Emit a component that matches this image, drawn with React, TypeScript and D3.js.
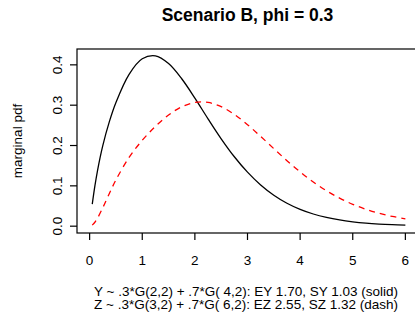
import React from "react";
import * as d3 from "d3";

const xValues = [0.05, 0.1, 0.15, 0.25, 0.375, 0.5, 0.75, 1, 1.25, 1.5, 1.75, 2, 2.25, 2.5, 2.75, 3, 3.25, 3.5, 3.75, 4, 4.25, 4.5, 4.75, 5, 5.25, 5.5, 5.75, 6];
const yPdf = [0.0545, 0.0998, 0.1380, 0.1997, 0.2591, 0.3066, 0.3765, 0.4150, 0.4224, 0.4033, 0.3655, 0.3175, 0.2662, 0.2167, 0.1721, 0.1339, 0.1022, 0.0768, 0.0569, 0.0417, 0.0302, 0.0217, 0.0154, 0.0109, 0.0076, 0.0053, 0.0037, 0.0025];
const zPdf = [0.0027, 0.0098, 0.0200, 0.0457, 0.0810, 0.1147, 0.1704, 0.2129, 0.2474, 0.2756, 0.2960, 0.3067, 0.3067, 0.2962, 0.2771, 0.2517, 0.2226, 0.1922, 0.1625, 0.1347, 0.1097, 0.0880, 0.0696, 0.0543, 0.0419, 0.0320, 0.0242, 0.0181];
const xTicks = [0, 1, 2, 3, 4, 5, 6];
const yTicks = [0.0, 0.1, 0.2, 0.3, 0.4];
const title = "Scenario B, phi = 0.3";
const yLabel = "marginal pdf";
const noteLines = [
  "Y ~ .3*G(2,2) + .7*G( 4,2): EY 1.70, SY 1.03 (solid)",
  "Z ~ .3*G(3,2) + .7*G( 6,2): EZ 2.55, SZ 1.32 (dash)",
];

const W = 415;
const H = 323;
const left = 77;
const right = 418;
const top = 49;
const bottom = 233;
const font = "'Liberation Sans', Arial, Helvetica, sans-serif";

export default function App() {
  const x = d3.scaleLinear().domain([-0.24, 6.24]).range([left, right]);
  const y = d3.scaleLinear().domain([-0.0169, 0.4393]).range([bottom, top]);
  const line = (vals: number[]) =>
    d3
      .line<number>()
      .x((_, i) => x(xValues[i]))
      .y((d) => y(d))
      .curve(d3.curveCatmullRom.alpha(0.5))(vals) || "";

  return (
    <svg
      width={W}
      height={H}
      style={{ position: "absolute", left: 0, top: 0, background: "#fff" }}
      fontFamily={font}
    >
      <rect x={0} y={0} width={W} height={H} fill="#fff" />
      <text x={(left + right) / 2} y={21} textAnchor="middle" fontSize={17.5} fontWeight="bold">
        {title}
      </text>
      <path d={line(yPdf)} fill="none" stroke="#000" strokeWidth={1.3} />
      <path d={line(zPdf)} fill="none" stroke="#ff0000" strokeWidth={1.3} strokeDasharray="6,5" />
      <rect x={left} y={top} width={right - left} height={bottom - top} fill="none" stroke="#000" strokeWidth={1.2} />
      {xTicks.map((t) => (
        <g key={"x" + t}>
          <line x1={x(t)} x2={x(t)} y1={bottom} y2={bottom + 7} stroke="#000" strokeWidth={1.2} />
          <text x={x(t)} y={265} textAnchor="middle" fontSize={13.5}>
            {t}
          </text>
        </g>
      ))}
      {yTicks.map((t) => (
        <g key={"y" + t}>
          <line x1={left} x2={left - 7} y1={y(t)} y2={y(t)} stroke="#000" strokeWidth={1.2} />
          <text
            transform={`translate(62,${y(t)}) rotate(-90)`}
            textAnchor="middle"
            fontSize={13.5}
          >
            {t.toFixed(1)}
          </text>
        </g>
      ))}
      <text transform={`translate(22,${(top + bottom) / 2}) rotate(-90)`} textAnchor="middle" fontSize={13.5}>
        {yLabel}
      </text>
      {noteLines.map((s, i) => (
        <text key={i} x={246} y={295.5 + i * 13.5} textAnchor="middle" fontSize={13.5}>
          {s}
        </text>
      ))}
    </svg>
  );
}
